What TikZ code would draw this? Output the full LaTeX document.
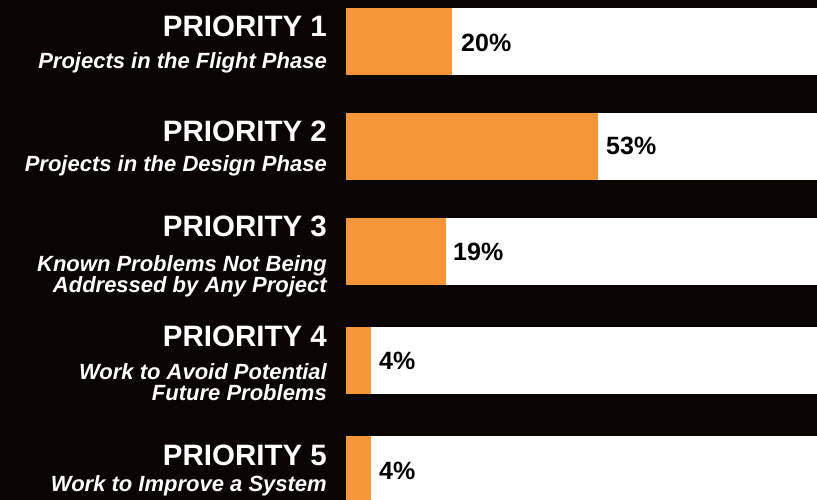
\documentclass[tikz,border=0pt]{standalone}
\usepackage{fontspec}
\setmainfont{Liberation Sans}
\definecolor{bg}{RGB}{10,5,2}
\definecolor{barorange}{RGB}{247,150,57}
\begin{document}
\begin{tikzpicture}[x=1pt,y=-1pt,
  title/.style={anchor=base east,inner sep=0pt,text=white,font=\fontsize{29.5}{30}\selectfont\bfseries},
  sub/.style={anchor=base east,inner sep=0pt,text=white,align=right,font=\fontsize{22}{21}\selectfont\bfseries\itshape},
  pct/.style={anchor=base west,inner sep=0pt,text=black,font=\fontsize{25}{26}\selectfont\bfseries},
  whitebar/.style={fill=white},
  orangebar/.style={fill=barorange}]
\fill[bg] (0,0) rectangle (817,500);
\useasboundingbox (0,0) rectangle (817,500);
% bars
\fill[whitebar] (346,8) rectangle (817,75);
\fill[orangebar] (346,8) rectangle (452,75);
\fill[whitebar] (346,113) rectangle (817,180);
\fill[orangebar] (346,113) rectangle (598,180);
\fill[whitebar] (346,218) rectangle (817,285);
\fill[orangebar] (346,218) rectangle (446,285);
\fill[whitebar] (346,327) rectangle (817,394);
\fill[orangebar] (346,327) rectangle (371,394);
\fill[whitebar] (346,436) rectangle (817,503);
\fill[orangebar] (346,436) rectangle (371,503);
% percentages
\node[pct] (p1) at (461,52) {20\%};
\node[pct] (p2) at (606,155) {53\%};
\node[pct] (p3) at (453,260) {19\%};
\node[pct] (p4) at (379,369.5) {4\%};
\node[pct] (p5) at (379,479) {4\%};
% labels
\node[title] (t1) at (327,36.7) {PRIORITY 1};
\node[sub] (s1) at (327,68.3) {Projects in the Flight Phase};
\node[title] (t2) at (327,141.7) {PRIORITY 2};
\node[sub] (s2) at (327,171.7) {Projects in the Design Phase};
\node[title] (t3) at (327,236.7) {PRIORITY 3};
\node[sub,anchor=north east] (s3) at (327,255) {Known Problems Not Being\\Addressed by Any Project};
\node[title] (t4) at (327,346.7) {PRIORITY 4};
\node[sub,anchor=north east] (s4) at (327,363) {Work to Avoid Potential\\Future Problems};
\node[title] (t5) at (327,465) {PRIORITY 5};
\node[sub] (s5) at (327,491.7) {Work to Improve a System};
\end{tikzpicture}
\end{document}
